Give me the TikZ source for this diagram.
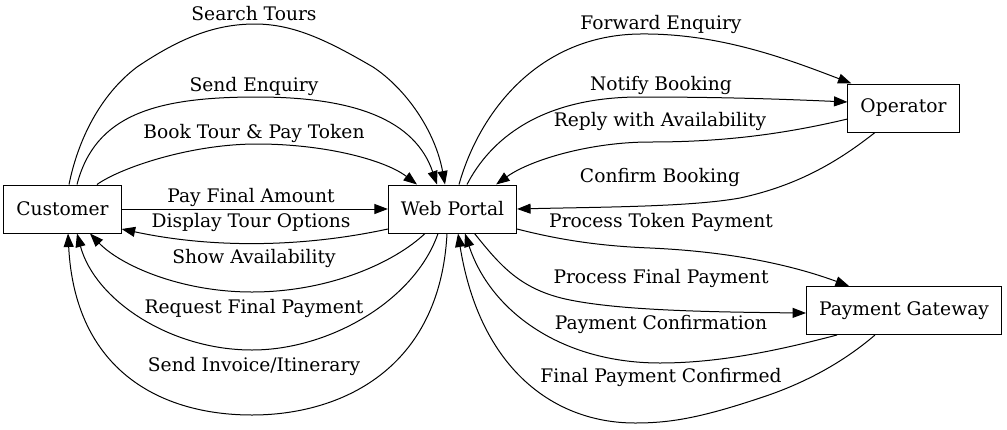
\documentclass[tikz,border=0pt]{standalone}
\usepackage{fontspec}
\setmainfont{DejaVu Serif}
\usetikzlibrary{positioning,arrows.meta}

\begin{document}
\begin{tikzpicture}[
    x=1pt, y=-1pt,
    box/.style={rectangle, draw, line width=1pt, minimum height=48pt, inner xsep=12.5pt, font=\fontsize{18.67}{22}\selectfont},
    lbl/.style={inner sep=0pt, font=\fontsize{18.67}{22}\selectfont},
    arrow/.style={-{Triangle[length=13.5pt, width=10pt]}, line width=1pt}
]
\useasboundingbox (0,0) rectangle (1007,429);

\node[box] (cust) at (62.5,209) {Customer};
\node[box] (web) at (452.5,209) {Web Portal};
\node[box] (op) at (903.5,108) {Operator};
\node[box] (pay) at (904,310.5) {Payment Gateway};

% customer -> web portal
\draw[arrow] ([xshift=6.5]cust.north) .. controls (78,140) and (100,95) .. (137,67)
    .. controls (180,38) and (215,24) .. (255,24)
    .. controls (295,24) and (330,42) .. (373,67)
    .. controls (405,88) and (435,130) .. ([xshift=-7.5]web.north);
\draw[arrow] ([xshift=14.5]cust.north) .. controls (95,115) and (155,97) .. (257,97)
    .. controls (355,97) and (415,120) .. ([xshift=-15.5]web.north);
\draw[arrow] ([xshift=34.5]cust.north) .. controls (120,168) and (190,144) .. (257,144)
    .. controls (325,144) and (385,160) .. ([xshift=-35.5]web.north);
\draw[arrow] (cust.east) -- (web.west);

% web portal -> customer
\draw[arrow] ([yshift=-20]web.west) .. controls (300,248) and (210,248) .. ([yshift=-20]cust.east);
\draw[arrow] ([xshift=-27.5]web.south) .. controls (395,262) and (330,292) .. (252,292)
    .. controls (180,292) and (120,265) .. ([xshift=27.5]cust.south);
\draw[arrow] ([xshift=-14.5]web.south) .. controls (415,300) and (330,350) .. (252,350)
    .. controls (170,350) and (95,300) .. ([xshift=14.5]cust.south);
\draw[arrow] ([xshift=-5.5]web.south) .. controls (440,370) and (340,415) .. (252,415)
    .. controls (160,415) and (75,370) .. ([xshift=5.5]cust.south);

% web portal <-> operator
\draw[arrow] ([xshift=6.5]web.north) .. controls (480,110) and (540,35) .. (640,34)
    .. controls (720,33) and (790,60) .. ([xshift=4]op.north west);
\draw[arrow] ([xshift=14.5]web.north) .. controls (490,140) and (540,97) .. (640,97)
    .. controls (720,97) and (780,99) .. ([yshift=6]op.west);
\draw[arrow] ([yshift=-11]op.west) .. controls (780,135) and (720,142) .. (650,142)
    .. controls (590,142) and (530,160) .. ([xshift=-21]web.north east);
\draw[arrow] ([xshift=-28.5]op.south) .. controls (840,160) and (800,185) .. (740,198)
    .. controls (690,207) and (600,207) .. (web.east);

% web portal <-> payment gateway
\draw[arrow] ([yshift=-20]web.east) .. controls (560,240) and (600,246) .. (650,248)
    .. controls (740,252) and (800,268) .. ([xshift=-55]pay.north);
\draw[arrow] ([xshift=22]web.south) .. controls (500,265) and (520,290) .. (570,300)
    .. controls (620,310) and (700,312) .. ([yshift=-2.5]pay.west);
\draw[arrow] ([xshift=-67]pay.south) .. controls (780,350) and (720,363) .. (660,363)
    .. controls (560,363) and (490,310) .. ([xshift=12.5]web.south);
\draw[arrow] ([xshift=-29]pay.south) .. controls (840,365) and (800,385) .. (760,398)
    .. controls (700,418) and (670,423) .. (635,423)
    .. controls (555,423) and (480,370) .. ([xshift=5.5]web.south);

% labels
\node[lbl] (lsearch) at (254,14) {Search Tours};
\node[lbl] (lenquiry) at (254,86) {Send Enquiry};
\node[lbl] (lbook) at (254,133) {Book Tour \& Pay Token};
\node[lbl] (lfinal) at (251,197) {Pay Final Amount};
\node[lbl] (ldisplay) at (251,222) {Display Tour Options};
\node[lbl] (lshow) at (254,258) {Show Availability};
\node[lbl] (lrequest) at (254,308) {Request Final Payment};
\node[lbl] (linvoice) at (254,366) {Send Invoice/Itinerary};
\node[lbl] (lforward) at (661,24) {Forward Enquiry};
\node[lbl] (lnotify) at (661,85) {Notify Booking};
\node[lbl] (lreply) at (660,121) {Reply with Availability};
\node[lbl] (lconfirm) at (660,177) {Confirm Booking};
\node[lbl] (ltoken) at (661,222) {Process Token Payment};
\node[lbl] (lprocfinal) at (661,278) {Process Final Payment};
\node[lbl] (lpayconf) at (661,324) {Payment Confirmation};
\node[lbl] (lfinalconf) at (661,377) {Final Payment Confirmed};

\end{tikzpicture}
\end{document}
